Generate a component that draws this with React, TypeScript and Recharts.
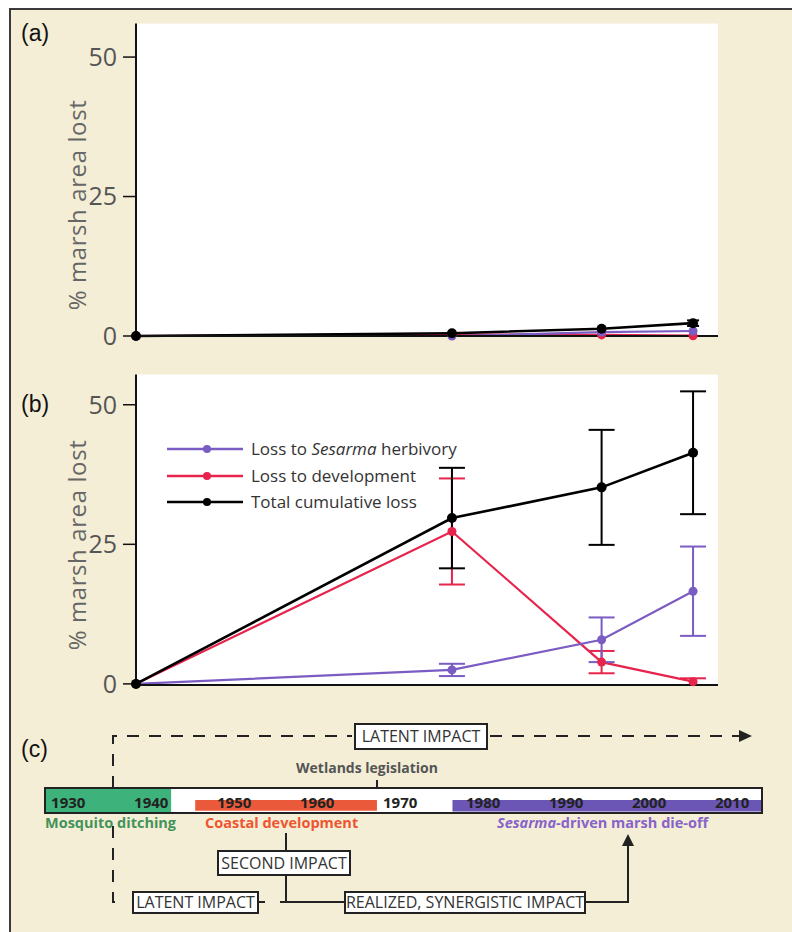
import React from 'react';
import {
  LineChart,
  Line,
  XAxis,
  YAxis,
  ErrorBar,
  CartesianGrid,
  Legend,
  ComposedChart,
  ReferenceArea,
  Customized,
} from 'recharts';

// ---------- data ----------
const surveyYears = [1938, 1976, 1994, 2005];

// panel (a)
const aSesarma = [0, 0, 0.7, 0.9];
const aSesarmaErr = [null, null, null, null];
const aDevelopment = [0, 0.3, 0.2, 0.05];
const aDevelopmentErr = [null, null, null, null];
const aTotal = [0, 0.5, 1.3, 2.3];
const aTotalErr = [null, null, null, 0.5];

// panel (b)
const bSesarma = [0, 2.5, 7.9, 16.6];
const bSesarmaErr = [null, 1.1, 4, 8];
const bDevelopment = [0, 27.3, 3.9, 0.4];
const bDevelopmentErr = [null, 9.5, 2, 0.6];
const bTotal = [0, 29.7, 35.2, 41.4];
const bTotalErr = [null, 9, 10.3, 11];

const yTicks = [0, 25, 50];
const seriesNames = ['Loss to Sesarma herbivory', 'Loss to development', 'Total cumulative loss'];

// panel (c) timeline
const decadeTicks = [1930, 1940, 1950, 1960, 1970, 1980, 1990, 2000, 2010];
const timelineDomain = [1927.2, 2013.6];
const periodNames = ['Mosquito ditching', 'Coastal development', 'Sesarma-driven marsh die-off'];
const periodStarts = [1927.2, 1945.3, 1976.3];
const periodEnds = [1942.4, 1967.2, 2013.6];
const legislationLabel = 'Wetlands legislation';

// ---------- styles ----------
const FONT = '"Open Sans", "Noto Sans", sans-serif';
const C_SES = '#7a5cc2';
const C_DEV = '#e6244c';
const C_TOT = '#000000';
const seriesColors = [C_SES, C_DEV, C_TOT];
const periodFills = ['#3db27a', '#ea5a3a', '#6b56b5'];
const periodText = ['#43935a', '#ee5530', '#8863c8'];
const BG = '#f4eed6';

const xDomain = [1938, 2008];

function buildRows(ses, sesE, dev, devE, tot, totE) {
  return surveyYears.map((year, i) => ({
    year,
    sesarma: ses[i],
    sesarmaErr: sesE[i],
    development: dev[i],
    developmentErr: devE[i],
    total: tot[i],
    totalErr: totE[i],
  }));
}

const panelA = buildRows(aSesarma, aSesarmaErr, aDevelopment, aDevelopmentErr, aTotal, aTotalErr);
const panelB = buildRows(bSesarma, bSesarmaErr, bDevelopment, bDevelopmentErr, bTotal, bTotalErr);

function renderName(name) {
  const idx = name.indexOf('Sesarma');
  if (idx < 0) return name;
  return (
    <>
      {name.slice(0, idx)}
      <i>Sesarma</i>
      {name.slice(idx + 7)}
    </>
  );
}

function LegendContent() {
  return (
    <div style={{ fontFamily: FONT, fontSize: 17, color: '#333', lineHeight: '20px' }}>
      {seriesNames.map((name, i) => (
        <div key={name} style={{ display: 'flex', alignItems: 'center', height: 26.5 }}>
          <svg width={78} height={12} style={{ display: 'block' }}>
            <line x1={0} y1={6} x2={76} y2={6} stroke={seriesColors[i]} strokeWidth={2.5} />
            <circle cx={40} cy={6} r={4} fill={seriesColors[i]} />
          </svg>
          <span style={{ marginLeft: 6, whiteSpace: 'nowrap' }}>{renderName(name)}</span>
        </div>
      ))}
    </div>
  );
}

function LossPanel({ data, height, marginTop, marginBottom, yMax, legend, capWidth }) {
  return (
    <LineChart
      width={792}
      height={height}
      data={data}
      margin={{ top: marginTop, right: 74, bottom: marginBottom, left: 0 }}
    >
      <CartesianGrid fill="#ffffff" stroke="none" horizontal={false} vertical={false} />
      <XAxis
        dataKey="year"
        type="number"
        domain={xDomain}
        tick={false}
        tickLine={false}
        height={4}
        axisLine={{ stroke: '#111', strokeWidth: 2 }}
      />
      <YAxis
        type="number"
        domain={[0, yMax]}
        ticks={yTicks}
        interval={0}
        width={136}
        tickSize={13}
        tickMargin={6}
        axisLine={{ stroke: '#111', strokeWidth: 2 }}
        tickLine={{ stroke: '#111', strokeWidth: 1.5 }}
        tick={{ fill: '#555', fontSize: 25, fontFamily: FONT }}
      />
      {legend && (
        <Legend
          layout="horizontal"
          verticalAlign="middle"
          align="center"
          wrapperStyle={{ left: 167, top: 75.75, width: 'auto', height: 'auto' }}
          content={LegendContent}
        />
      )}
      <Line
        dataKey="development"
        stroke={C_DEV}
        strokeWidth={2.2}
        dot={{ r: 4.5, fill: C_DEV, stroke: C_DEV, strokeWidth: 0 }}
        isAnimationActive={false}
      >
        <ErrorBar dataKey="developmentErr" width={capWidth} stroke={C_DEV} strokeWidth={2} isAnimationActive={false} />
      </Line>
      <Line
        dataKey="sesarma"
        stroke={C_SES}
        strokeWidth={2.2}
        dot={{ r: 4.5, fill: C_SES, stroke: C_SES, strokeWidth: 0 }}
        isAnimationActive={false}
      >
        <ErrorBar dataKey="sesarmaErr" width={capWidth} stroke={C_SES} strokeWidth={2} isAnimationActive={false} />
      </Line>
      <Line
        dataKey="total"
        stroke={C_TOT}
        strokeWidth={2.6}
        dot={{ r: 5, fill: C_TOT, stroke: C_TOT, strokeWidth: 0 }}
        isAnimationActive={false}
      >
        <ErrorBar dataKey="totalErr" width={capWidth} stroke={C_TOT} strokeWidth={2} isAnimationActive={false} />
      </Line>
    </LineChart>
  );
}

function DecadeTick(props) {
  const { x, y, payload } = props;
  return (
    <text x={x} y={y - 5} textAnchor="middle" fontSize={15} fontWeight={700} fill="#222" fontFamily={FONT}>
      {payload.value}
    </text>
  );
}

function Box({ x, y, w, h, label }) {
  return (
    <g>
      <rect x={x} y={y} width={w} height={h} fill="#fff" stroke="#222" strokeWidth={2} />
      <text
        x={x + w / 2}
        y={y + h / 2 + 5.5}
        textAnchor="middle"
        fontSize={16}
        fill="#333"
        fontFamily={FONT}
      >
        {label}
      </text>
    </g>
  );
}

function TimelineAnnotations() {
  const line = { stroke: '#222', strokeWidth: 2, fill: 'none' };
  const dash = { ...line, strokeDasharray: '12 10' };
  return (
    <g>
      {/* top latent-impact dashed path */}
      <path d="M113,88 L113,36 L352,36" {...dash} />
      <path d="M490,36 L740,36" {...dash} />
      <polygon points="739,30 752,36 739,42" fill="#222" />
      <Box x={355} y={24} w={132} h={25} label="LATENT IMPACT" />

      {/* legislation */}
      <text x={367} y={73} textAnchor="middle" fontSize={14} fontWeight={700} fill="#555" fontFamily={FONT}>
        {legislationLabel}
      </text>
      <line x1={377} y1={80} x2={377} y2={88} {...line} />

      {/* period labels */}
      <text x={45} y={128} fontSize={14.5} fontWeight={700} fill={periodText[0]} fontFamily={FONT}>
        {periodNames[0]}
      </text>
      <text x={205} y={128} fontSize={14.5} fontWeight={700} fill={periodText[1]} fontFamily={FONT}>
        {periodNames[1]}
      </text>
      <text x={497} y={128} fontSize={14.5} fontWeight={700} fill={periodText[2]} fontFamily={FONT}>
        <tspan fontStyle="italic">Sesarma</tspan>
        {periodNames[2].slice(7)}
      </text>

      {/* lower latent-impact dashed path */}
      <path d="M113,126 L113,202 L119,202" {...dash} />
      <Box x={133} y={192} w={125} h={21} label="LATENT IMPACT" />
      <line x1={258} y1={202} x2={265} y2={202} {...line} />

      {/* second impact */}
      <line x1={286} y1={133} x2={286} y2={151} {...line} />
      <Box x={218} y={151} w={132} h={24} label="SECOND IMPACT" />
      <line x1={286} y1={175} x2={286} y2={202} {...line} />
      <line x1={280} y1={202} x2={345} y2={202} {...line} />

      {/* realized impact */}
      <Box x={345} y={192} w={240} h={21} label="REALIZED, SYNERGISTIC IMPACT" />
      <path d="M585,202 L628,202 L628,146" {...line} />
      <polygon points="622,146 628,134 634,146" fill="#222" />
    </g>
  );
}

function TimelinePanel() {
  const rows = decadeTicks.map((year) => ({ year }));
  return (
    <ComposedChart width={792} height={232} data={rows} margin={{ top: 88, right: 30, bottom: 89, left: 45 }}>
      <XAxis
        dataKey="year"
        type="number"
        domain={timelineDomain}
        allowDataOverflow
        ticks={decadeTicks}
        interval={0}
        tickSize={0}
        tickMargin={0}
        axisLine={false}
        tickLine={false}
        height={30}
        tick={DecadeTick}
      />
      <YAxis type="number" domain={[0, 1]} allowDataOverflow hide width={0} />
      <ReferenceArea
        x1={timelineDomain[0]}
        x2={timelineDomain[1]}
        y1={0}
        y2={1}
        fill="#ffffff"
        fillOpacity={1}
        stroke="none"
        ifOverflow="visible"
      />
      <ReferenceArea
        x1={periodStarts[0]}
        x2={periodEnds[0]}
        y1={0}
        y2={1}
        fill={periodFills[0]}
        fillOpacity={1}
        stroke="none"
        ifOverflow="visible"
      />
      <ReferenceArea
        x1={periodStarts[1]}
        x2={periodEnds[1]}
        y1={0.09}
        y2={0.52}
        fill={periodFills[1]}
        fillOpacity={1}
        stroke="none"
        ifOverflow="visible"
      />
      <ReferenceArea
        x1={periodStarts[2]}
        x2={periodEnds[2]}
        y1={0.06}
        y2={0.52}
        fill={periodFills[2]}
        fillOpacity={1}
        stroke="none"
        ifOverflow="visible"
      />
      <ReferenceArea
        x1={timelineDomain[0]}
        x2={timelineDomain[1]}
        y1={0}
        y2={1}
        fill="none"
        fillOpacity={0}
        stroke="#222"
        strokeWidth={2}
        ifOverflow="visible"
      />
      <Customized component={TimelineAnnotations} />
    </ComposedChart>
  );
}

export default function App() {
  return (
    <div
      style={{
        position: 'absolute',
        left: 0,
        top: 0,
        width: 792,
        height: 932,
        background: '#ffffff',
        overflow: 'hidden',
        fontFamily: FONT,
      }}
    >
      <div
        style={{
          position: 'absolute',
          left: 9,
          top: 8,
          right: 0,
          bottom: 0,
          background: BG,
          borderTop: '2px solid #3a3a3a',
          borderLeft: '2px solid #3a3a3a',
        }}
      />
      <div style={{ position: 'absolute', left: 0, top: 0 }}>
        <LossPanel data={panelA} height={360} marginTop={23.6} marginBottom={20} yMax={56} legend={false} capWidth={6} />
      </div>
      <div style={{ position: 'absolute', left: 0, top: 360 }}>
        <LossPanel data={panelB} height={350} marginTop={14.6} marginBottom={21} yMax={55.4} legend capWidth={13} />
      </div>
      <div style={{ position: 'absolute', left: 0, top: 700 }}>
        <TimelinePanel />
      </div>
      <svg
        width={792}
        height={932}
        style={{ position: 'absolute', left: 0, top: 0, pointerEvents: 'none' }}
      >
        <g fontFamily='"Liberation Sans", Arial, sans-serif' fontSize={23} fill="#111">
          <text x={21} y={41}>(a)</text>
          <text x={21} y={412}>(b)</text>
          <text x={21} y={757}>(c)</text>
        </g>
        <g fontFamily={FONT} fontSize={24} fill="#666" letterSpacing={0.6}>
          <text x={86} y={205} textAnchor="middle" transform="rotate(-90 86 205)">% marsh area lost</text>
          <text x={86} y={545} textAnchor="middle" transform="rotate(-90 86 545)">% marsh area lost</text>
        </g>
      </svg>
    </div>
  );
}
